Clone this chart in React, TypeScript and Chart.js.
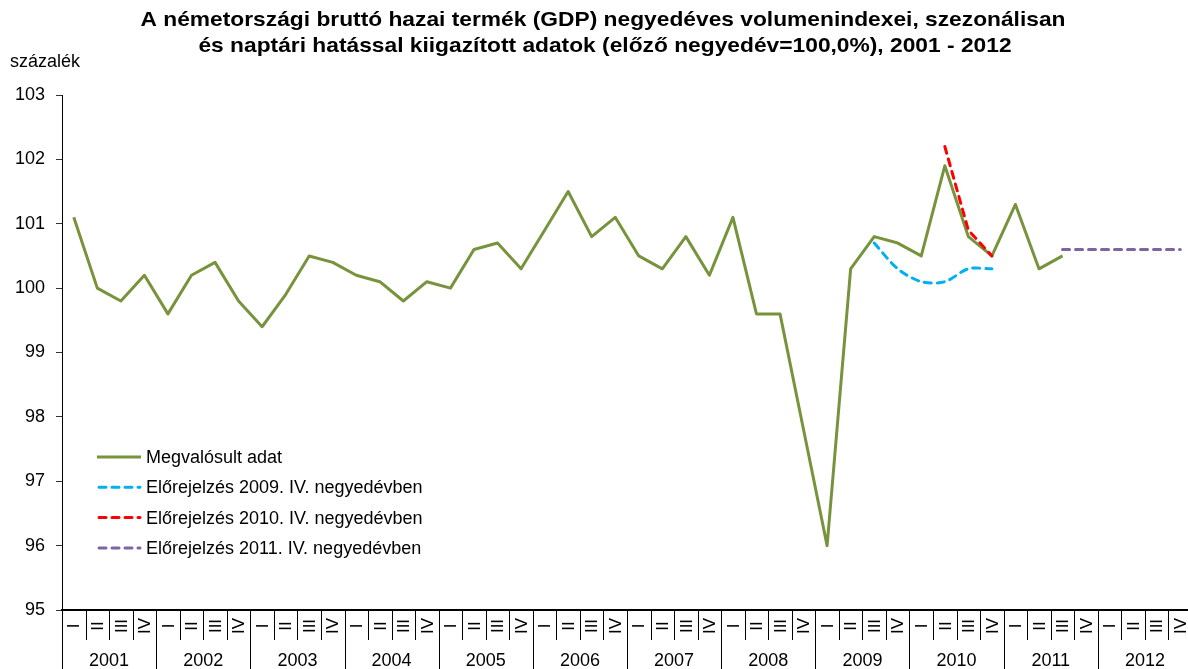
import React, { useEffect, useRef } from "react";
import { Chart, registerables } from "chart.js";

Chart.register(...registerables);

const titleLines = [
  "A németországi bruttó hazai termék (GDP) negyedéves volumenindexei, szezonálisan",
  "és naptári hatással kiigazított adatok (előző negyedév=100,0%), 2001 - 2012",
];
const yAxisTitle = "százalék";
const quarterNames = ["I", "II", "III", "IV"];
const years = ["2001", "2002", "2003", "2004", "2005", "2006", "2007", "2008", "2009", "2010", "2011", "2012"];

const actual = [
  101.1, 100.0, 99.8, 100.2,
  99.6, 100.2, 100.4, 99.8,
  99.4, 99.9, 100.5, 100.4,
  100.2, 100.1, 99.8, 100.1,
  100.0, 100.6, 100.7, 100.3,
  100.9, 101.5, 100.8, 101.1,
  100.5, 100.3, 100.8, 100.2,
  101.1, 99.6, 99.6, 97.8,
  96.0, 100.3, 100.8, 100.7,
  100.5, 101.9, 100.8, 100.5,
  101.3, 100.3, 100.5,
];

// forecasts: starting quarter index (0 = 2001 I) and values
const forecast2009Start = 34;
const forecast2009 = [100.7, 100.3, 100.1, 100.1, 100.3, 100.3];
const forecast2010Start = 37;
const forecast2010 = [102.2, 100.9, 100.5];
const forecast2011Start = 42;
const forecast2011 = [100.6, 100.6, 100.6, 100.6, 100.6, 100.6];

const seriesNames = [
  "Megvalósult adat",
  "Előrejelzés 2009. IV. negyedévben",
  "Előrejelzés 2010. IV. negyedévben",
  "Előrejelzés 2011. IV. negyedévben",
];
const colors = ["#77933C", "#00B0F0", "#FF0000", "#8064A2"];

const FONT = '"Liberation Sans", Arial, sans-serif';

const labels: string[] = [];
years.forEach((y) => quarterNames.forEach((q) => labels.push(y + " " + q)));

function pad(start: number, vals: number[]): (number | null)[] {
  const out: (number | null)[] = labels.map(() => null);
  vals.forEach((v, i) => (out[start + i] = v));
  return out;
}

const decorPlugin = {
  id: "decor",
  afterDraw(chart: any) {
    const { ctx, chartArea, scales } = chart;
    const xs = scales.x;
    const n = labels.length;
    const step = xs.getPixelForValue(1) - xs.getPixelForValue(0);
    const bottom = chartArea.bottom;
    ctx.save();

    // separators
    ctx.strokeStyle = "#000";
    ctx.lineWidth = 1;
    for (let i = 0; i <= n; i++) {
      const xb = Math.round(xs.getPixelForValue(i) - step / 2) + 0.5;
      ctx.beginPath();
      ctx.moveTo(xb, bottom);
      ctx.lineTo(xb, i % 4 === 0 ? 669 : 640);
      ctx.stroke();
    }

    // quarter labels (rotated)
    ctx.fillStyle = "#000";
    ctx.font = "17px " + FONT;
    ctx.textAlign = "center";
    ctx.textBaseline = "middle";
    for (let i = 0; i < n; i++) {
      const xc = xs.getPixelForValue(i);
      ctx.save();
      ctx.translate(xc + 1, 626);
      ctx.rotate(-Math.PI / 2);
      ctx.fillText(quarterNames[i % 4], 0, 0);
      ctx.restore();
    }

    // year labels
    ctx.font = "18px " + FONT;
    years.forEach((y, k) => {
      const xc = (xs.getPixelForValue(4 * k) + xs.getPixelForValue(4 * k + 3)) / 2;
      ctx.fillText(y, xc, 661);
    });

    // y axis title
    ctx.textAlign = "left";
    ctx.fillText(yAxisTitle, 10, 62);

    // title
    ctx.font = "bold 21px " + FONT;
    ctx.textAlign = "center";
    const w1 = ctx.measureText(titleLines[0]).width;
    const sx = 925 / w1;
    [[603, 20], [605, 46]].forEach(([cx, cy], i) => {
      ctx.save();
      ctx.translate(cx, cy);
      ctx.scale(sx, 1);
      ctx.fillText(titleLines[i], 0, 0);
      ctx.restore();
    });

    // legend
    ctx.font = "18px " + FONT;
    ctx.textAlign = "left";
    seriesNames.forEach((name, i) => {
      const y = 457 + i * 30.3;
      ctx.save();
      ctx.strokeStyle = colors[i];
      ctx.lineWidth = 3;
      if (i > 0) {
        ctx.setLineDash([7, 6]);
        ctx.lineCap = "round";
        ctx.beginPath();
        ctx.moveTo(99, y);
        ctx.lineTo(140, y);
      } else {
        ctx.lineCap = "butt";
        ctx.beginPath();
        ctx.moveTo(97, y);
        ctx.lineTo(141, y);
      }
      ctx.stroke();
      ctx.restore();
      ctx.fillStyle = "#000";
      ctx.fillText(name, 146, y + 1);
    });

    ctx.restore();
  },
};

export default function App() {
  const ref = useRef<HTMLCanvasElement | null>(null);

  useEffect(() => {
    document.body.style.margin = "0";
    const canvas = ref.current;
    if (!canvas) return;
    const dashed = {
      borderWidth: 3,
      borderDash: [7, 6],
      borderCapStyle: "round" as const,
      pointRadius: 0,
      fill: false,
      order: 0,
    };
    const chart = new Chart(canvas, {
      type: "line",
      data: {
        labels,
        datasets: [
          {
            label: seriesNames[0],
            data: pad(0, actual),
            borderColor: colors[0],
            borderWidth: 3,
            borderJoinStyle: "round",
            pointRadius: 0,
            fill: false,
            order: 10,
          },
          { label: seriesNames[1], data: pad(forecast2009Start, forecast2009), borderColor: colors[1], tension: 0.3, ...dashed },
          { label: seriesNames[2], data: pad(forecast2010Start, forecast2010), borderColor: colors[2], ...dashed },
          { label: seriesNames[3], data: pad(forecast2011Start, forecast2011), borderColor: colors[3], ...dashed },
        ],
      },
      options: {
        animation: false,
        responsive: false,
        devicePixelRatio: 1,
        layout: { padding: { top: 95, left: 0, right: 0, bottom: 0 } },
        plugins: { legend: { display: false }, tooltip: { enabled: false }, title: { display: false } },
        scales: {
          x: {
            type: "category",
            offset: true,
            grid: { display: false },
            ticks: { display: false },
            border: { display: true, color: "#000", width: 2 },
            afterFit: (s: any) => {
              s.height = 59;
            },
          },
          y: {
            min: 95,
            max: 103,
            ticks: {
              stepSize: 1,
              color: "#000",
              padding: 11,
              font: { size: 18, family: FONT },
            },
            grid: { drawOnChartArea: false, drawTicks: true, tickLength: 6, color: "#333" },
            border: { display: true, color: "#000", width: 1 },
            afterFit: (s: any) => {
              s.width = 62;
            },
          },
        },
      },
      plugins: [decorPlugin],
    });
    return () => chart.destroy();
  }, []);

  return (
    <div style={{ width: 1188, height: 669, overflow: "hidden", position: "relative", background: "#fff" }}>
      <canvas ref={ref} width={1192} height={669} style={{ width: 1192, height: 669, display: "block" }} />
    </div>
  );
}
